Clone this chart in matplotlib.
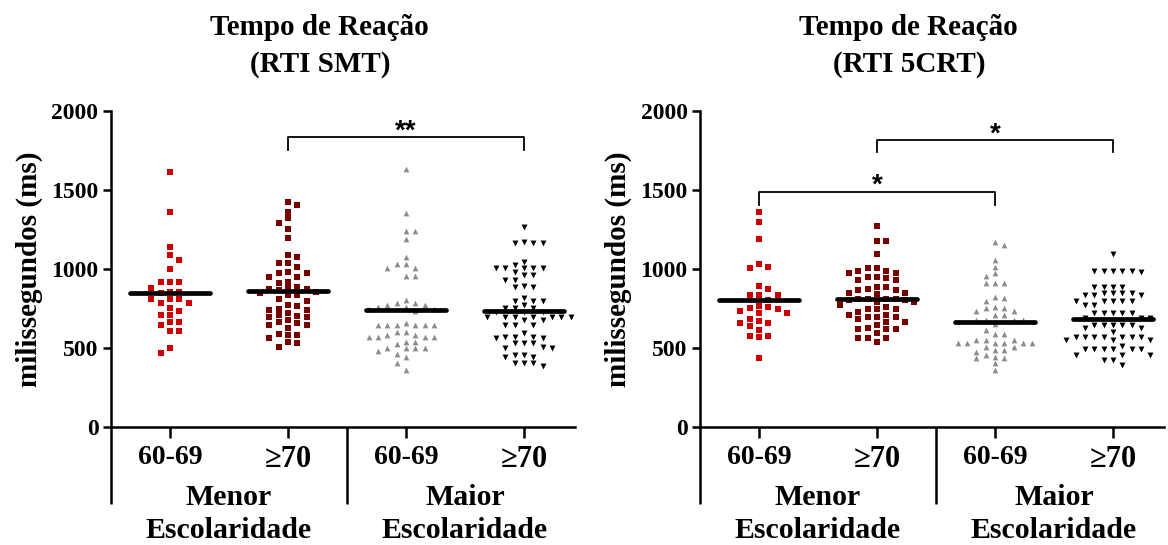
import numpy as np
import matplotlib
matplotlib.use("Agg")
import matplotlib.pyplot as plt
from matplotlib.transforms import blended_transform_factory

plt.rcParams['font.family'] = ['Liberation Serif', 'DejaVu Serif']
plt.rcParams['font.weight'] = 'bold'

# categorias
grupos = ['60-69', '\u226570', '60-69', '\u226570']
escolaridade = ['Menor\nEscolaridade', 'Maior\nEscolaridade']
titulos = ['Tempo de Reação\n(RTI SMT)', 'Tempo de Reação\n(RTI 5CRT)']

# RTI SMT (ms)
smt_menor_6069 = [1612, 1359, 1141, 1087, 1057, 998, 918, 918, 918, 882, 857, 857, 846,
                  808, 808, 808, 783, 783, 753, 736, 711, 711, 665, 665, 646, 606, 606, 498, 470]
smt_menor_70 = [1426, 1405, 1363, 1321, 1289, 1253, 1194, 1089, 1074, 1040, 1036, 1011, 983,
                977, 973, 951, 951, 920, 910, 885, 878, 871, 871, 867, 856, 846, 835, 835, 808,
                800, 772, 768, 749, 741, 741, 723, 707, 701, 698, 698, 677, 665, 656, 646, 646,
                625, 589, 582, 582, 561, 540, 530, 508]
smt_maior_6069 = [1631, 1352, 1241, 1241, 1192, 1078, 1030, 1030, 1008, 1008, 956, 956, 804,
                  787, 787, 772, 772, 761, 761, 749, 749, 736, 656, 646, 646, 646, 646, 646, 646,
                  603, 603, 582, 582, 572, 572, 572, 572, 540, 540, 523, 498, 498, 498, 498, 483,
                  460, 441, 407, 361]
smt_maior_70 = [1264, 1169, 1163, 1163, 1163, 1046, 1025, 1004, 1004, 1004, 1004, 1004, 983,
                962, 962, 930, 930, 892, 888, 888, 815, 799, 799, 799, 772, 751, 751, 751, 730,
                730, 730, 698, 698, 698, 698, 698, 698, 698, 677, 677, 646, 646, 646, 597, 572,
                572, 572, 565, 565, 530, 530, 530, 508, 498, 498, 456, 456, 445, 445, 403, 403,
                403, 386]
smt_medias = [846, 861, 741, 733]

# RTI 5CRT (ms)
crt_menor_6069 = [1359, 1297, 1192, 1030, 1015, 1006, 890, 875, 835, 835, 835, 804, 766, 762,
                  751, 747, 736, 723, 723, 684, 669, 658, 656, 639, 614, 578, 578, 570, 439]
crt_menor_70 = [1272, 1179, 1179, 1093, 1004, 1004, 989, 989, 973, 973, 951, 951, 941, 928,
                928, 884, 884, 873, 867, 867, 850, 846, 840, 810, 810, 810, 810, 804, 804, 793,
                793, 772, 761, 747, 747, 747, 726, 709, 709, 694, 694, 694, 682, 663, 663, 646,
                628, 620, 620, 620, 593, 561, 561, 561, 536]
crt_maior_6069 = [1173, 1152, 1057, 1015, 973, 958, 909, 909, 909, 823, 815, 797, 761, 755,
                  755, 734, 734, 709, 709, 677, 677, 677, 677, 650, 614, 589, 589, 551, 551, 551,
                  530, 530, 530, 530, 530, 530, 508, 508, 487, 487, 477, 456, 445, 435, 435, 403,
                  361]
crt_maior_70 = [1095, 987, 987, 987, 987, 987, 979, 888, 888, 888, 888, 846, 846, 846, 846,
                835, 835, 835, 799, 799, 799, 799, 799, 772, 772, 722, 722, 722, 722, 722, 690,
                690, 690, 646, 646, 646, 646, 646, 625, 625, 603, 568, 568, 568, 568, 568, 568,
                568, 551, 551, 551, 513, 494, 494, 494, 494, 494, 494, 456, 456, 456, 424, 424,
                392]
crt_medias = [804, 810, 667, 684]

paineis = [
    ([smt_menor_6069, smt_menor_70, smt_maior_6069, smt_maior_70], smt_medias,
     [((2, 4), 1835, 1753, '**')]),
    ([crt_menor_6069, crt_menor_70, crt_maior_6069, crt_maior_70], crt_medias,
     [((2, 4), 1816, 1740, '*'), ((1, 3), 1489, 1405, '*')]),
]

estilos = [
    dict(marker='s', color='#cc0000', s=24),
    dict(marker='s', color='#7a0000', s=24),
    dict(marker='^', color='#8c8c8c', s=17),
    dict(marker='v', color='black', s=18),
]


def swarm(vals, px_x=118.0, px_y=0.158, passo=4.67, wcol=9.0, hcol=6.5):
    # beeswarm simples em pixels
    vals = np.asarray(vals, dtype=float)
    ordem = np.argsort(-vals, kind='stable')
    postos = []
    offs = np.zeros(len(vals))
    lado = 1
    for i in ordem:
        y = vals[i] * px_y
        pos = 0.0
        for k in range(60):
            cands = [0.0] if k == 0 else [lado * k * passo, -lado * k * passo]
            achou = None
            for c in cands:
                if all(abs(c - px) >= wcol or abs(y - py) >= hcol for px, py in postos):
                    achou = c
                    break
            if achou is not None:
                pos = achou
                break
        if pos != 0:
            lado = -lado
        postos.append((pos, y))
        offs[i] = pos / px_x
    return offs


fig = plt.figure(figsize=(11.68, 5.45), dpi=100)
W, H = 1168.0, 545.0
esquerdas = [111, 700]

for p, (series, medias, barras) in enumerate(paineis):
    ax = fig.add_axes([esquerdas[p] / W, 118 / H, 464 / W, 316 / H])
    for j, vals in enumerate(series):
        x = (j + 1) + swarm(vals)
        ax.scatter(x, vals, linewidths=0, zorder=2, **estilos[j])
        ax.plot([j + 1 - 0.34, j + 1 + 0.34], [medias[j], medias[j]], color='black',
                lw=3.4, solid_capstyle='round', zorder=3)

    for (a, b), ytop, ybot, txt in barras:
        ax.plot([a, a, b, b], [ybot, ytop, ytop, ybot], color='black', lw=1.3, zorder=3)
        ax.text((a + b) / 2, ytop - 45, txt, ha='center', va='bottom', fontsize=20,
                family=['Liberation Sans', 'DejaVu Sans'], fontweight='bold')

    ax.set_xlim(0.5, 0.5 + 464 / 118)
    ax.set_ylim(0, 2000)
    ax.set_yticks([0, 500, 1000, 1500, 2000])
    ax.set_xticks([1, 2, 3, 4])
    ax.set_xticklabels(grupos, fontsize=20)
    for t in ax.get_xticklabels()[1::2]:
        t.set_fontsize(22)
    ax.tick_params(axis='y', labelsize=17, width=1.8, length=6, pad=3)
    ax.tick_params(axis='x', width=1.8, length=8, pad=5)
    for lbl in ax.get_yticklabels():
        lbl.set_fontweight('bold')
    for lbl in ax.get_xticklabels():
        lbl.set_fontweight('bold')
    for s in ['top', 'right']:
        ax.spines[s].set_visible(False)
    for s in ['left', 'bottom']:
        ax.spines[s].set_linewidth(1.8)

    ax.set_ylabel('milissegundos (ms)', fontsize=21, fontweight='bold', labelpad=6)
    ax.set_title(titulos[p], fontsize=21, fontweight='bold', linespacing=1.5, pad=28,
                 x=0.45)

    tr = blended_transform_factory(ax.transData, ax.transAxes)
    for xv in [0.5, 2.5]:
        ax.plot([xv, xv], [0, -0.245], transform=tr, color='black', lw=1.8,
                clip_on=False, solid_capstyle='butt')
    for k, nome in enumerate(escolaridade):
        ax.text(1.5 + 2 * k, -0.275, nome, transform=tr, ha='center', va='center',
                fontsize=21.5, fontweight='bold', linespacing=1.3)

fig.savefig('out.png', dpi=100)
